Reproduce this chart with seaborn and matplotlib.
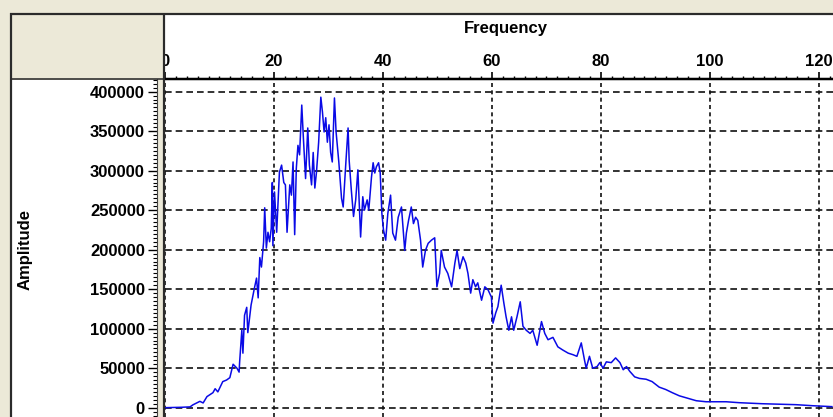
import matplotlib
matplotlib.use("Agg")
import matplotlib.pyplot as plt
import seaborn as sns
import pandas as pd
from matplotlib.patches import Rectangle
from matplotlib.lines import Line2D
from matplotlib.ticker import MultipleLocator

# ---- data ----
frequency = [0, 3, 4.6, 5.1, 6.4, 7.0, 7.7, 8.8, 9.2, 9.7, 10.6, 11.3, 11.9, 12.5, 13.2, 13.6,
             13.7, 14.1, 14.3, 14.6, 15.0, 15.2, 15.8, 16.4, 16.8, 17.1, 17.4, 17.7, 18.1, 18.3,
             18.6, 18.9, 19.2, 19.5, 19.7, 19.8, 20.1, 20.5, 21.0, 21.4, 21.8, 22.1, 22.4, 22.9,
             23.2, 23.5, 23.8, 24.1, 24.4, 24.7, 25.1, 25.4, 25.8, 26.2, 26.5, 26.9, 27.2, 27.5,
             27.8, 28.2, 28.6, 28.9, 29.2, 29.5, 29.8, 30.1, 30.4, 30.7, 31.1, 31.4, 31.9, 32.4,
             32.7, 33.2, 33.6, 33.8, 34.2, 34.6, 35.0, 35.4, 35.9, 36.3, 36.6, 37.1, 37.4, 37.9,
             38.2, 38.5, 38.8, 39.2, 39.5, 39.8, 40.1, 40.5, 40.9, 41.4, 41.8, 42.3, 42.8, 43.4,
             44.0, 44.3, 44.7, 45.2, 45.6, 46.0, 46.4, 46.9, 47.3, 47.8, 48.3, 48.9, 49.5, 49.9,
             50.4, 50.7, 51.3, 51.9, 52.6, 53.2, 53.6, 54.1, 54.7, 55.2, 55.6, 56.1, 56.5, 57.0,
             57.4, 58.1, 58.7, 59.3, 59.9, 60.2, 60.7, 61.1, 61.7, 62.2, 62.6, 63.1, 63.6, 64.0,
             64.6, 65.2, 65.7, 66.3, 67.0, 67.5, 68.3, 69.1, 69.7, 70.3, 71.2, 72.1, 73.0, 74.0,
             74.9, 75.6, 76.4, 77.0, 77.3, 77.9, 78.5, 79.3, 79.8, 80.4, 81.0, 81.9, 82.7, 83.5,
             84.1, 84.7, 85.3, 86.2, 87.1, 88.3, 89.4, 90.7, 91.9, 93.1, 94.4, 95.6, 97.5, 99.3,
             103.0, 105.4, 109.6, 115.8, 118.8, 122.4]
amplitude = [0, 500, 1000, 3500, 8000, 6000, 14000, 19000, 24000, 20000, 33000, 35000, 38000, 55000,
             50000, 45000, 58000, 98000, 69000, 117000, 127000, 95000, 130000, 151000, 164000, 139000,
             190000, 178000, 210000, 253000, 202000, 222000, 210000, 227000, 285000, 205000, 273000,
             222000, 298000, 307000, 285000, 282000, 222000, 282000, 269000, 311000, 219000, 303000,
             332000, 320000, 383000, 341000, 290000, 354000, 307000, 282000, 323000, 278000, 298000,
             336000, 393000, 374000, 349000, 367000, 336000, 358000, 323000, 311000, 392000, 349000,
             311000, 265000, 254000, 311000, 354000, 313000, 275000, 242000, 263000, 301000, 216000,
             267000, 250000, 263000, 250000, 292000, 310000, 297000, 305000, 310000, 297000, 246000,
             225000, 212000, 246000, 269000, 221000, 212000, 241000, 254000, 199000, 221000, 237000,
             254000, 233000, 241000, 237000, 212000, 178000, 199000, 208000, 212000, 215000, 153000,
             170000, 199000, 178000, 170000, 153000, 183000, 199000, 176000, 191000, 183000, 170000,
             145000, 162000, 153000, 158000, 136000, 153000, 149000, 140000, 107000, 120000, 128000,
             155000, 132000, 115000, 98000, 115000, 98000, 115000, 134000, 103000, 98000, 94000,
             98000, 79000, 109000, 94000, 86000, 89000, 77000, 73000, 69000, 67000, 65000, 82000,
             60000, 50000, 65000, 50000, 52000, 57000, 50000, 58000, 57000, 63000, 57000, 48000,
             52000, 46000, 39000, 37000, 36000, 33000, 26000, 23000, 19000, 15000, 12600, 8800,
             7500, 7500, 6300, 5000, 3800, 2500, 1300]
x_ticks = [0, 20, 40, 60, 80, 100, 120]
y_ticks = [0, 50000, 100000, 150000, 200000, 250000, 300000, 350000, 400000]
x_title = "Frequency"
y_title = "Amplitude"

df = pd.DataFrame({"Frequency": frequency, "Amplitude": amplitude})

plt.rcParams["font.family"] = ["Liberation Sans", "DejaVu Sans"]
plt.rcParams["font.weight"] = "bold"

W, H = 833, 417
BEIGE = "#ECE9D8"
DARK = "#2b2b2b"
PX = 72 / 100  # points per pixel


def fx(x):
    return x / W


def fy(y):
    return 1 - y / H


fig = plt.figure(figsize=(W / 100, H / 100), dpi=100, facecolor=BEIGE)
ax = fig.add_axes([fx(165), 0, fx(833) - fx(165), fy(79)])

sns.lineplot(data=df, x="Frequency", y="Amplitude", ax=ax, color="#0a0ae6",
             lw=1.1, estimator=None, sort=False)

ax.set_xlim(0, 122.6)
ax.set_ylim(-11800, 416000)
ax.set_xlabel("")
ax.set_ylabel("")

ax.xaxis.set_ticks_position("top")
ax.set_xticks(x_ticks)
ax.set_xticklabels([str(v) for v in x_ticks])
ax.xaxis.set_minor_locator(MultipleLocator(2))
ax.set_yticks(y_ticks)
ax.set_yticklabels([str(v) for v in y_ticks])
ax.yaxis.set_minor_locator(MultipleLocator(5000))

ax.tick_params(axis="x", which="major", direction="out", length=7 * PX, width=1.2,
               pad=3 * PX, labelsize=12, top=True, bottom=False, labeltop=True,
               labelbottom=False, colors="black")
ax.tick_params(axis="x", which="minor", direction="out", length=3.5 * PX, width=1.0,
               top=True, bottom=False)
ax.tick_params(axis="y", which="major", direction="out", length=9 * PX, width=1.0,
               pad=3 * PX, labelsize=12)
ax.tick_params(axis="y", which="minor", direction="out", length=4 * PX, width=0.8)

for s in ("right", "bottom"):
    ax.spines[s].set_visible(False)
ax.spines["top"].set_linewidth(2.5 * PX)
ax.spines["top"].set_color("black")
ax.spines["left"].set_position(("outward", 8 * PX))
ax.spines["left"].set_linewidth(0.8)
ax.spines["left"].set_color("#444444")

ax.yaxis.grid(True, color="#111111", lw=1.2, linestyle=(0, (4.0, 2.4)))
ax.xaxis.grid(True, color="#111111", lw=1.2, linestyle=(0, (2.4, 2.0)))
ax.set_facecolor("white")

# ---- frame panels (window chrome) ----
fig.patches.append(Rectangle((fx(165), fy(78)), fx(833) - fx(165), fy(15) - fy(78),
                             transform=fig.transFigure, facecolor="white",
                             edgecolor="none", zorder=-1))
fig.patches.append(Rectangle((fx(12), 0), fx(157) - fx(12), fy(80),
                             transform=fig.transFigure, facecolor="white",
                             edgecolor="none", zorder=-1))
fig.patches.append(Rectangle((fx(12), fy(78.5)), fx(164) - fx(12), fy(15) - fy(78.5),
                             transform=fig.transFigure, facecolor=BEIGE,
                             edgecolor="none", zorder=5))


def fline(x0, y0, x1, y1, lw_px, color=DARK, z=6):
    fig.lines.append(Line2D([fx(x0), fx(x1)], [fy(y0), fy(y1)], transform=fig.transFigure,
                            color=color, lw=lw_px * PX, zorder=z, solid_capstyle="butt"))


fline(10, 14, 833, 14, 2.2)
fline(11, 13, 11, 417, 2.2)
fline(164, 13, 164, 417, 2.2)
fline(11, 79.2, 164, 79.2, 1.6)

fig.text(fx(506), fy(28), x_title, ha="center", va="center", fontsize=12,
         fontweight="bold", color="black")
fig.text(fx(25), fy(250), y_title, ha="center", va="center", rotation=90,
         fontsize=12, fontweight="bold", color="black")

fig.savefig("out.png", dpi=100, facecolor=BEIGE)
